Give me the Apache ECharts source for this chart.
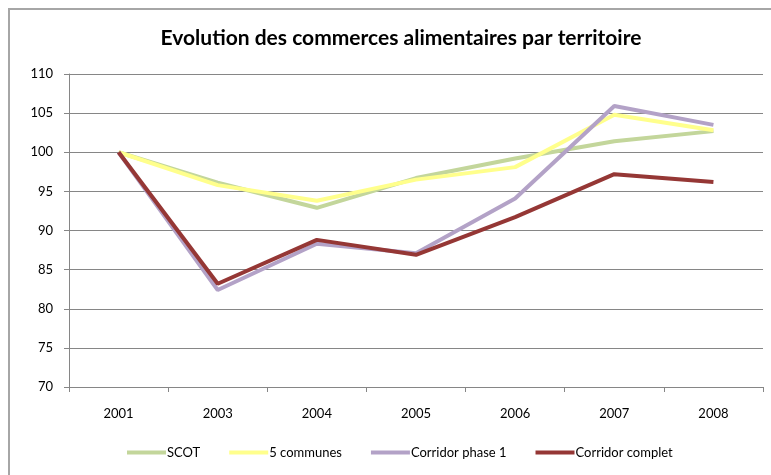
<!DOCTYPE html>
<html>
<head>
<meta charset="utf-8">
<script src="https://cdn.jsdelivr.net/npm/echarts@6/dist/echarts.min.js"></script>
<style>
  html, body { margin: 0; padding: 0; background: #fff; }
  #chart { width: 771px; height: 475px; }
</style>
</head>
<body>
<div id="chart"></div>
<script>
// annees
const years = ['2001', '2003', '2004', '2005', '2006', '2007', '2008'];

// indices base 100 en 2001
const scot = [100, 96.1, 92.9, 96.7, 99.2, 101.4, 102.7];
const cinqCommunes = [100, 95.8, 93.8, 96.5, 98.1, 104.8, 102.8];
const corridorPhase1 = [100, 82.4, 88.3, 87.1, 94.1, 105.9, 103.5];
const corridorComplet = [100, 83.2, 88.8, 86.9, 91.7, 97.2, 96.2];

const fontName = 'Lato';

const myChart = echarts.init(document.getElementById('chart'));

function mkLine(name, data, color) {
  return {
    name: name,
    type: 'line',
    data: data,
    showSymbol: false,
    symbol: 'none',
    lineStyle: { width: 4, color: color },
    itemStyle: { color: color }
  };
}

const option = {
  animation: false,
  backgroundColor: '#fff',
  textStyle: { fontFamily: fontName },
  title: {
    text: 'Evolution des commerces alimentaires par territoire',
    left: 396,
    top: 23,
    textAlign: 'center',
    textStyle: { fontFamily: fontName, fontSize: 21, fontWeight: 'bold', color: '#000' }
  },
  graphic: [{
    type: 'rect',
    shape: { x: 9, y: 9, width: 800, height: 500 },
    style: { fill: null, stroke: '#a6a6a6', lineWidth: 2 },
    silent: true
  }],
  legend: {
    bottom: 11,
    left: 122,
    itemWidth: 39,
    itemHeight: 4,
    itemGap: 29,
    icon: 'rect',
    textStyle: { fontFamily: fontName, fontSize: 13, color: '#000', padding: [0, 0, 0, -4] },
    data: ['SCOT', '5 communes', 'Corridor phase 1', 'Corridor complet']
  },
  grid: { left: 69, right: 8, top: 74, bottom: 88 },
  xAxis: {
    type: 'category',
    data: years,
    boundaryGap: true,
    axisLine: { lineStyle: { color: '#868686', width: 1 } },
    axisTick: { show: true, length: 5, lineStyle: { color: '#868686' } },
    axisLabel: { color: '#000', fontSize: 13, margin: 20, fontFamily: fontName }
  },
  yAxis: {
    type: 'value',
    min: 70,
    max: 110,
    interval: 5,
    axisLine: { show: true, lineStyle: { color: '#868686', width: 1 } },
    axisTick: { show: true, length: 5, lineStyle: { color: '#868686' } },
    axisLabel: { color: '#000', fontSize: 13, margin: 16, fontFamily: fontName },
    splitLine: { lineStyle: { color: '#868686', width: 1 } }
  },
  series: [
    mkLine('SCOT', scot, '#c3d69b'),
    mkLine('5 communes', cinqCommunes, '#ffff8c'),
    mkLine('Corridor phase 1', corridorPhase1, '#b3a2c7'),
    mkLine('Corridor complet', corridorComplet, '#953735')
  ]
};

myChart.setOption(option);
</script>
</body>
</html>
